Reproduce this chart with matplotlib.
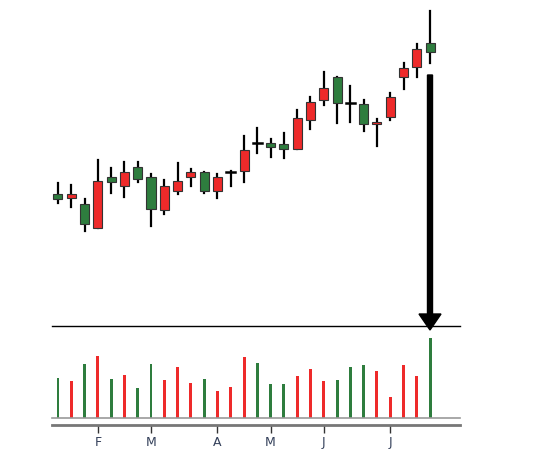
import matplotlib
matplotlib.use("Agg")
import matplotlib.pyplot as plt
import numpy as np

highs  = [66.7,64.7,51,90,82.3,87.7,87.7,75.7,70,86.7,81,77.7,75.7,79,114.3,122.3,111,116.7,140,153.3,177.7,173.3,164.3,150,131,156.7,186.7,205.7,239]
tops   = [55.7,55.7,45.7,69,73.3,77.7,83.3,73.3,64.3,69,77.7,77.7,73.3,78.5,100,107.5,106.7,105.7,132.3,147.7,161.7,172.7,147.5,145.7,127.7,153.3,181.7,201,206.7]
bots   = [51,52.3,25.7,22.3,68.3,64.3,70.7,41,40,59,73.3,59,59,78.5,79,107.5,103.3,101,101,130,150,146.7,147.5,125.7,125.7,133.3,173.3,183.3,198.3]
lows   = [46.7,43.3,19,22.3,56.7,53.3,68.3,24.3,35.7,55.7,64.3,56.7,52.3,64.3,68.3,96.7,93.3,92.3,101,121,145,126.7,127.7,119,104.3,130,161,172.7,186.7]
ctype  = list("GRGRGRGGRRRGRDRDGGRRRGDGRRRRG")
volume = [120,110,163,186,116,130,90,163,113,153,106,116,80,93,183,166,103,103,126,146,110,113,153,160,140,63,160,126,240]
vcolor = list("GRGRGRGGRRRGRRRGGGRRRGGGRRRRG")
month_pos = [3,7,12,16,20,25]
month_lbl = ["F","M","A","M","J","J"]

GREEN = "#2e7d3e"; RED = "#ee2a2a"
W, H = 535, 453
fig = plt.figure(figsize=(W/100, H/100), dpi=100)
def ax_px(x0, y0, x1, y1):
    return fig.add_axes([x0/W, 1-y1/H, (x1-x0)/W, (y1-y0)/H])

xlim = (-0.45, 30.25)
ax = ax_px(52, 0, 460, 325)
ax.set_xlim(*xlim); ax.set_ylim(-75, 250); ax.axis("off")
for i in range(len(highs)):
    ax.plot([i, i], [lows[i], highs[i]], color="black", lw=1.6, zorder=1)
    if ctype[i] == "D":
        ax.plot([i-0.35, i+0.35], [tops[i], tops[i]], color="black", lw=1.8, zorder=2)
    else:
        c = GREEN if ctype[i] == "G" else RED
        ax.bar(i, tops[i]-bots[i], bottom=bots[i], width=0.68, color=c,
               edgecolor="#333333", linewidth=0.8, zorder=2)

vax = ax_px(52, 326, 460, 418)
vax.set_xlim(*xlim); vax.set_ylim(0, 276)
vax.bar(range(len(volume)), volume, width=0.22, color=[GREEN if c == "G" else RED for c in vcolor])
for s in ["left", "right"]:
    vax.spines[s].set_visible(False)
vax.spines["top"].set_color("black"); vax.spines["top"].set_linewidth(1)
vax.spines["bottom"].set_color("#999999"); vax.spines["bottom"].set_linewidth(1.2)
vax.set_xticks([]); vax.set_yticks([])

tax = ax_px(52, 420, 460, 425)
tax.set_xlim(*xlim)
for s in ["left", "right", "top"]:
    tax.spines[s].set_visible(False)
tax.spines["bottom"].set_color("#777777"); tax.spines["bottom"].set_linewidth(2)
tax.set_yticks([]); tax.patch.set_alpha(0)
tax.set_xticks(month_pos); tax.set_xticklabels(month_lbl, fontsize=9, color="#34405a")
tax.tick_params(axis="x", direction="out", length=6, width=1, color="#333333", pad=2)

fig.add_artist(plt.matplotlib.patches.FancyArrow(430/W, 1-75/H, 0, -(255)/H, width=5/W,
               head_width=22/W, head_length=16/H, length_includes_head=True,
               color="black", transform=fig.transFigure))
fig.savefig("out.png", dpi=100, facecolor="white")
